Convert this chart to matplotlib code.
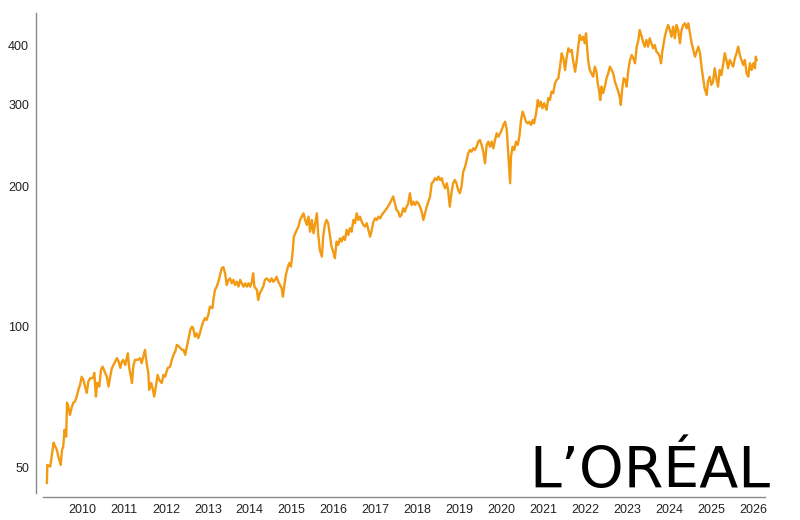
import matplotlib
matplotlib.use("Agg")
import matplotlib.pyplot as plt
from matplotlib.ticker import FixedLocator, NullLocator, FixedFormatter

# Time as decimal years, price in EUR
time_years = [
    2009.16, 2009.17, 2009.24, 2009.28, 2009.32, 2009.36, 2009.40, 2009.43, 2009.49, 2009.52,
    2009.55, 2009.58, 2009.62, 2009.64, 2009.67, 2009.71, 2009.75, 2009.79, 2009.83, 2009.87,
    2009.91, 2009.95, 2009.99, 2010.03, 2010.07, 2010.11, 2010.15, 2010.19, 2010.26, 2010.29,
    2010.33, 2010.36, 2010.41, 2010.45, 2010.49, 2010.55, 2010.59, 2010.63, 2010.67, 2010.71,
    2010.75, 2010.79, 2010.83, 2010.87, 2010.91, 2010.95, 2010.98,
    2011.03, 2011.09, 2011.12, 2011.19, 2011.22, 2011.26, 2011.33, 2011.38, 2011.42, 2011.46,
    2011.50, 2011.54, 2011.58, 2011.60, 2011.65, 2011.69, 2011.72, 2011.76, 2011.80, 2011.84,
    2011.90, 2011.94, 2011.98, 2012.04, 2012.10, 2012.14, 2012.18, 2012.22, 2012.26, 2012.31,
    2012.38, 2012.42, 2012.46, 2012.50, 2012.53, 2012.58, 2012.62, 2012.65, 2012.69, 2012.73,
    2012.77, 2012.81, 2012.85, 2012.89, 2012.93, 2012.97, 2013.01, 2013.05, 2013.11,
    2013.13, 2013.17, 2013.21, 2013.25, 2013.29, 2013.33, 2013.37, 2013.41, 2013.45, 2013.49,
    2013.53, 2013.57, 2013.61, 2013.65, 2013.69, 2013.73, 2013.77, 2013.81, 2013.85, 2013.89,
    2013.93, 2013.97, 2014.01, 2014.05, 2014.08, 2014.11, 2014.17, 2014.20, 2014.24, 2014.28,
    2014.32, 2014.36, 2014.40, 2014.44, 2014.48, 2014.52, 2014.56, 2014.60, 2014.64, 2014.68,
    2014.72, 2014.76, 2014.79, 2014.82, 2014.86, 2014.90, 2014.94, 2014.98, 2015.02, 2015.05,
    2015.12, 2015.16, 2015.20, 2015.24, 2015.28, 2015.32, 2015.36, 2015.40, 2015.44, 2015.48,
    2015.52, 2015.56, 2015.60, 2015.63, 2015.67, 2015.72, 2015.75, 2015.79, 2015.83, 2015.87,
    2015.91, 2015.95, 2015.99, 2016.03, 2016.07, 2016.11, 2016.15, 2016.19, 2016.23, 2016.27,
    2016.31, 2016.35, 2016.39, 2016.43, 2016.47, 2016.51, 2016.55, 2016.59, 2016.63, 2016.67,
    2016.71, 2016.75, 2016.79, 2016.83, 2016.87, 2016.91, 2016.95, 2016.99, 2017.03, 2017.07,
    2017.11, 2017.15, 2017.21,
    2017.27, 2017.34, 2017.38, 2017.42, 2017.46, 2017.50, 2017.54, 2017.58, 2017.62, 2017.66,
    2017.70, 2017.74, 2017.78, 2017.82, 2017.86, 2017.90, 2017.94, 2017.98, 2018.02, 2018.06,
    2018.10, 2018.14, 2018.18, 2018.22, 2018.26, 2018.30, 2018.34, 2018.38, 2018.42, 2018.46,
    2018.50, 2018.54, 2018.58, 2018.61, 2018.66, 2018.70, 2018.73, 2018.77, 2018.81, 2018.85,
    2018.89, 2018.93, 2018.97,
    2019.01, 2019.05, 2019.09, 2019.13, 2019.17, 2019.21, 2019.25, 2019.29, 2019.33, 2019.37,
    2019.41, 2019.45, 2019.49, 2019.53, 2019.57, 2019.61, 2019.65, 2019.69, 2019.73, 2019.77,
    2019.81, 2019.85, 2019.89, 2019.93, 2019.97, 2020.01, 2020.05, 2020.09, 2020.13, 2020.16,
    2020.21, 2020.23, 2020.27, 2020.31, 2020.35, 2020.39, 2020.43, 2020.47, 2020.51, 2020.55,
    2020.59, 2020.63, 2020.67, 2020.71, 2020.75, 2020.78, 2020.83, 2020.87, 2020.90, 2020.94,
    2020.98, 2021.02,
    2021.08, 2021.12, 2021.16, 2021.20, 2021.24, 2021.28, 2021.32, 2021.36, 2021.40, 2021.44,
    2021.48, 2021.52, 2021.56, 2021.60, 2021.64, 2021.68, 2021.71, 2021.76, 2021.80, 2021.83,
    2021.87, 2021.91, 2021.95, 2021.99, 2022.02, 2022.05, 2022.07, 2022.11, 2022.15, 2022.19,
    2022.23, 2022.27, 2022.30, 2022.33, 2022.36, 2022.39, 2022.43, 2022.47, 2022.51, 2022.55,
    2022.59, 2022.63, 2022.67, 2022.71, 2022.75, 2022.79, 2022.83, 2022.85, 2022.88, 2022.92,
    2022.96, 2022.99, 2023.03, 2023.07,
    2023.11, 2023.15, 2023.19, 2023.23, 2023.27, 2023.30, 2023.35, 2023.38, 2023.42, 2023.46,
    2023.50, 2023.54, 2023.58, 2023.62, 2023.66, 2023.70, 2023.74, 2023.78, 2023.81, 2023.84,
    2023.86, 2023.90, 2023.94, 2023.98, 2024.02, 2024.06, 2024.10, 2024.14, 2024.18, 2024.22,
    2024.26, 2024.30, 2024.34, 2024.38, 2024.42, 2024.46, 2024.50, 2024.54, 2024.58, 2024.62,
    2024.66, 2024.70, 2024.74, 2024.78, 2024.81, 2024.85, 2024.90, 2024.93, 2024.97, 2025.01,
    2025.05, 2025.09, 2025.13, 2025.17, 2025.21, 2025.25, 2025.29, 2025.33, 2025.37, 2025.41,
    2025.45, 2025.49, 2025.53, 2025.57, 2025.61, 2025.65, 2025.69, 2025.73, 2025.77, 2025.81,
    2025.85, 2025.89, 2025.93, 2025.97, 2026.01, 2026.05, 2026.07, 2026.09,
]

price_eur = [
    46.3, 50.6, 50.2, 53.2, 56.5, 55.4, 54.5, 52.8, 50.6, 54.5,
    55.4, 60.2, 58.2, 68.8, 67.5, 64.8, 67.1, 68.8, 69.2, 70.9,
    73.3, 75.1, 78.2, 77.0, 74.5, 72.2, 76.4, 77.6, 77.7, 79.7,
    70.9, 75.9, 74.5, 80.9, 82.2, 79.7, 78.2, 74.5, 78.2, 81.6,
    82.9, 84.3, 85.7, 84.3, 81.7, 84.3, 85.0,
    82.9, 87.8, 82.2, 75.8, 82.2, 85.0, 85.0, 85.7, 83.6, 86.4,
    89.3, 83.6, 79.6, 73.3, 75.8, 73.3, 70.9, 74.5, 78.9, 77.0,
    75.8, 78.9, 78.2, 81.6, 82.2, 85.0, 87.1, 88.5, 91.5, 90.8,
    89.3, 89.3, 87.1, 90.8, 93.8, 98.5, 100.1, 99.4, 95.3, 96.9,
    94.6, 96.9, 100.1, 102.6, 104.4, 103.5, 106.1, 110.5, 109.7,
    114.2, 120.0, 122.0, 125.0, 129.2, 133.6, 134.3, 130.3, 123.0, 126.1,
    127.1, 124.0, 126.1, 123.0, 125.0, 122.0, 126.1, 124.0, 122.0, 124.0,
    122.0, 124.0, 122.0, 125.0, 130.3, 122.0, 120.0, 114.2, 118.1, 120.0,
    122.0, 126.1, 127.1, 126.1, 125.0, 127.1, 125.0, 126.1, 128.1, 125.0,
    123.0, 121.0, 116.1, 122.0, 129.2, 133.6, 137.0, 134.7, 143.8, 156.1,
    161.4, 164.1, 169.5, 172.3, 175.2, 169.5, 165.4, 172.3, 160.0, 169.5,
    158.7, 166.8, 175.2, 158.7, 146.2, 141.5, 156.1, 165.4, 169.5, 166.8,
    157.4, 148.6, 144.9, 140.4, 152.4, 149.9, 154.9, 152.4, 156.1, 153.6,
    161.4, 157.4, 162.8, 160.0, 169.5, 166.8, 175.2, 169.5, 172.3, 168.1,
    165.4, 164.1, 166.8, 161.4, 156.1, 161.4, 168.1, 170.9, 169.5, 172.3,
    170.9, 173.8, 176.6,
    179.6, 184.0, 187.1, 190.3, 184.0, 178.1, 176.6, 172.3, 173.8, 179.6,
    176.6, 181.0, 184.0, 193.4, 182.5, 185.5, 182.5, 185.5, 184.0, 181.0,
    176.6, 169.5, 175.2, 181.0, 185.5, 190.3, 203.2, 204.8, 208.3, 206.5,
    210.0, 206.5, 208.3, 203.2, 198.2, 203.2, 196.6, 181.0, 193.4, 203.2,
    206.5, 203.2, 196.6,
    193.4, 199.8, 214.8, 219.6, 226.8, 235.6, 239.4, 237.4, 241.4, 239.4,
    243.3, 249.5, 251.6, 245.4, 237.4, 224.3, 245.4, 249.5, 243.3, 249.5,
    241.4, 251.6, 260.0, 255.6, 260.0, 264.3, 270.9, 275.3, 264.3, 239.4,
    203.2, 231.6, 243.3, 239.4, 249.5, 245.4, 255.6, 277.6, 289.4, 282.5,
    275.3, 273.0, 275.3, 270.9, 277.6, 273.0, 287.0, 306.4, 296.6, 303.9,
    294.1, 301.5,
    291.7, 309.3, 306.4, 319.5, 317.0, 332.8, 338.2, 341.1, 361.2, 385.8,
    376.5, 355.3, 379.4, 395.5, 388.9, 392.2, 373.3, 352.3, 373.3, 395.5,
    422.3, 412.0, 418.7, 405.4, 425.9, 392.2, 373.3, 355.3, 349.6, 343.8,
    361.2, 352.3, 332.8, 321.9, 306.4, 327.3, 317.0, 327.3, 341.1, 349.6,
    361.2, 355.3, 349.6, 335.4, 327.3, 319.5, 309.3, 299.0, 321.9, 341.1,
    338.2, 327.3, 355.3, 373.3,
    382.6, 376.5, 367.3, 398.6, 412.0, 432.8, 418.7, 408.5, 398.6, 412.0,
    398.6, 415.5, 405.4, 395.5, 402.0, 388.9, 385.8, 379.4, 367.3, 388.9,
    398.6, 418.7, 432.8, 443.6, 432.8, 418.7, 439.9, 415.5, 443.6, 432.8,
    405.4, 432.8, 443.6, 447.4, 436.4, 447.4, 425.9, 405.4, 392.2, 379.4,
    388.9, 398.6, 385.8, 358.3, 343.8, 324.5, 314.1, 335.4, 343.8, 330.0,
    335.4, 358.3, 341.1, 327.3, 355.3, 346.7, 364.2, 385.8, 373.3, 358.3,
    373.3, 367.3, 361.2, 376.5, 385.8, 398.6, 382.6, 373.3, 364.2, 373.3,
    349.6, 343.8, 367.3, 355.3, 367.3, 358.3, 379.4, 373.3,
]

year_ticks = list(range(2010, 2027))
year_labels = [str(y) for y in year_ticks]
price_ticks = [50, 100, 200, 300, 400]
price_labels = [str(p) for p in price_ticks]

W, H = 800, 520
fig = plt.figure(figsize=(W / 100, H / 100), dpi=100)
fig.patch.set_facecolor("white")

ax_left, ax_right, ax_top, ax_bottom = 36, 765, 13, 497
ax = fig.add_axes([ax_left / W, 1 - ax_bottom / H,
                   (ax_right - ax_left) / W, (ax_bottom - ax_top) / H])
ax.set_facecolor("white")

ax.plot(time_years, price_eur, color="#F29A12", linewidth=1.7,
        solid_joinstyle="round")

ax.set_yscale("log")
ax.set_xlim(2008.90, 2026.29)
ax.set_ylim(43.2, 470.7)

ax.yaxis.set_major_locator(FixedLocator(price_ticks))
ax.yaxis.set_major_formatter(FixedFormatter(price_labels))
ax.yaxis.set_minor_locator(NullLocator())
ax.xaxis.set_major_locator(FixedLocator(year_ticks))
ax.xaxis.set_major_formatter(FixedFormatter(year_labels))
ax.xaxis.set_minor_locator(NullLocator())

ax.tick_params(axis="both", length=0, labelsize=9, colors="#222222")
ax.tick_params(axis="y", pad=5)
ax.tick_params(axis="x", pad=5)
for lab in ax.get_xticklabels() + ax.get_yticklabels():
    lab.set_fontfamily("Liberation Sans")

for side in ["top", "right"]:
    ax.spines[side].set_visible(False)
for side in ["left", "bottom"]:
    ax.spines[side].set_color("#8a8a8a")
    ax.spines[side].set_linewidth(1.0)
ax.spines["bottom"].set_bounds(2009.07, 2026.29)
ax.spines["left"].set_bounds(44.0, 470.7)

fig.text(650 / W, 1 - 488 / H, "L’ORÉAL", fontsize=41, color="black",
         family="DejaVu Sans", ha="center", va="baseline")

fig.savefig("out.png", dpi=100, facecolor="white")
